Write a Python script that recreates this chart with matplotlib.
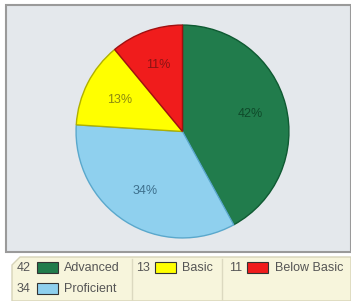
import matplotlib.pyplot as plt
from matplotlib.patches import Rectangle, Polygon

labels = ['Advanced', 'Proficient', 'Basic', 'Below Basic']
values = [42, 34, 13, 11]
colors = ['#217c4c', '#8fd0ee', '#ffff00', '#f01c1c']
edges = ['#0f5a32', '#5aa8cc', '#b0b000', '#a01010']
text_colors = ['#0f4a2a', '#3d6f8c', '#8c8a10', '#8a1414']

W, H = 351, 301
plt.rcParams['font.family'] = ['Liberation Sans', 'DejaVu Sans']

fig = plt.figure(figsize=(W / 100, H / 100), dpi=100)
fig.patch.set_facecolor('white')


def px(x0, y0, x1, y1):
    # pixel box (top-left origin) -> figure fraction rect
    return [x0 / W, 1 - y1 / H, (x1 - x0) / W, (y1 - y0) / H]


# gray chart panel
panel = Rectangle((6 / W, 1 - 252 / H), (W - 6) / W, (252 - 5) / H,
                  transform=fig.transFigure, facecolor='#e4e8ec',
                  edgecolor='#9a9a9a', linewidth=1.5, zorder=-5)
fig.patches.append(panel)

# legend box with cut corner
lx0, ly0, c = 12, 257, 8
pts = [(lx0, ly0 + c), (lx0 + c, ly0), (W, ly0), (W, H), (lx0, H)]
leg = Polygon([(x / W, 1 - y / H) for x, y in pts], closed=True,
              transform=fig.transFigure, facecolor='#f7f5dc',
              edgecolor='#d6d3b8', linewidth=1, zorder=-5)
fig.patches.append(leg)
for xd in (132, 222):
    fig.add_artist(plt.Line2D([xd / W, xd / W], [1 - 259 / H, 0],
                              transform=fig.transFigure, color='#dcd9c0', lw=1))

# pie
ax = fig.add_axes(px(75, 24, 290, 239))
ax.set_zorder(2)
wedges, _, autotexts = ax.pie(values, colors=colors, startangle=90, counterclock=False,
                              autopct='%d%%', pctdistance=0.66,
                              wedgeprops=dict(linewidth=1))
for w, e in zip(wedges, edges):
    w.set_edgecolor(e)
for t, tc in zip(autotexts, text_colors):
    t.set_color(tc)
    t.set_fontsize(9)
ax.set_xlim(-1.01, 1.01)
ax.set_ylim(-1.01, 1.01)
ax.set_aspect('auto')
ax.axis('off')

# legend entries: (index, number x, swatch x, label x, y)
entries = [(0, 17, 37, 64, 268), (1, 17, 37, 64, 289),
           (2, 136, 155, 182, 268), (3, 229, 247, 275, 268)]
for i, xn, xs, xl, y in entries:
    fig.text(xn / W, 1 - y / H, str(values[i]), fontsize=9, color='#555555', va='center')
    sw = Rectangle((xs / W, 1 - (y + 5) / H), 21 / W, 11 / H,
                   transform=fig.transFigure, facecolor=colors[i],
                   edgecolor='#333333', linewidth=0.8, zorder=3)
    fig.patches.append(sw)
    fig.text(xl / W, 1 - y / H, labels[i], fontsize=9, color='#555555', va='center')

fig.savefig('out.png', dpi=100)
